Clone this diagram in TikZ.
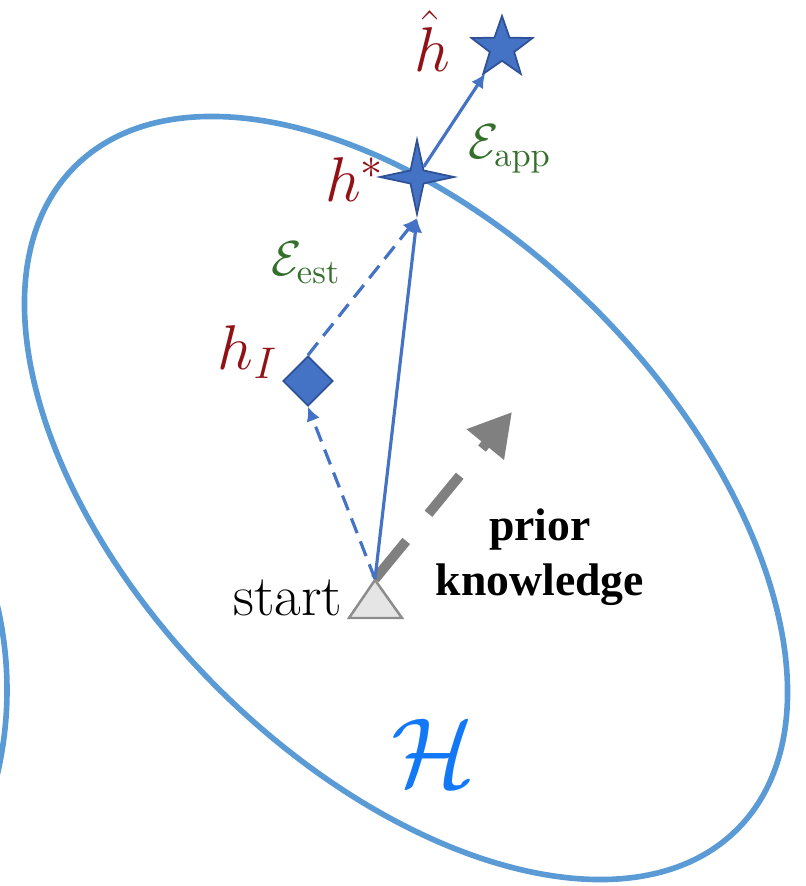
\RequirePackage{fix-cm}
\documentclass[tikz,border=0pt]{standalone}
\usepackage{amsmath}
\usepackage{fontspec}
\newfontfamily\tnrfont{Liberation Serif}
\usetikzlibrary{shapes.geometric,arrows.meta}

\definecolor{hypblue}{RGB}{91,155,213}
\definecolor{Hblue}{RGB}{18,120,245}
\definecolor{markblue}{RGB}{68,114,196}
\definecolor{markedge}{RGB}{47,82,150}
\definecolor{labred}{RGB}{145,18,22}
\definecolor{errgreen}{RGB}{52,112,44}

\begin{document}
\begin{tikzpicture}[
  hyp/.style={draw=hypblue, line width=1.6pt},
  hmark/.style={draw=markedge, fill=markblue, line width=0.5pt, inner sep=0pt},
  redlab/.style={text=labred, font=\fontsize{18}{20}\selectfont},
  errlab/.style={text=errgreen, font=\fontsize{14}{16}\selectfont},
  link/.style={draw=markblue, line width=0.9pt, -{Latex[length=4pt,width=4pt]}},
  dlink/.style={link, dash pattern=on 4.5pt off 2.5pt},
  priorarrow/.style={draw=gray, line width=2.8pt, dash pattern=on 14pt off 10pt,
    -{Triangle[length=12pt,width=13pt]}, gray}
]
\useasboundingbox (0,0) rectangle (8.05,8.86);

% hypothesis spaces
\begin{scope}
\clip (0,0) rectangle (8.05,8.86);
\draw[hyp] (-3.63,1.96) circle (3.70);
\end{scope}
\draw[hyp, rotate around={-45:(4.06,3.88)}] (4.06,3.88) ellipse (4.685cm and 2.675cm);

% start
\filldraw[fill=black!10, draw=black!45, line width=0.7pt] (3.49,2.68) -- (3.75,3.06) -- (4.02,2.68) -- cycle;
\coordinate (start) at (3.75,3.07);
\coordinate (pktip) at (5.12,4.74);

% hypotheses
\node[hmark, star, star points=5, star point ratio=2.5, minimum size=0.64cm] (hhat) at (5.02,8.38) {};
\node[hmark, star, star points=4, star point ratio=4, minimum size=0.74cm] (hstar) at (4.17,7.09) {};
\node[hmark, diamond, minimum size=0.5cm] (hI) at (3.08,5.05) {};

% arrows
\draw[priorarrow] (start) -- (pktip);
\draw[dlink] (start) -- (hI.south);
\draw[dlink] (hI.north) -- (hstar.-90);
\draw[link] (start) -- (hstar.-90);
\draw[link] (hstar) -- (hhat);

% labels
\node[redlab] (hhatlab) at (4.32,8.45) {$\hat{h}$};
\node[redlab] (hstarlab) at (3.55,7.06) {$h^*$};
\node[redlab] (hIlab) at (2.48,5.34) {$h_I$};
\node[errlab] (eapp) at (5.10,7.37) {$\mathcal{E}_{\text{app}}$};
\node[errlab] (eest) at (3.06,6.23) {$\mathcal{E}_{\text{est}}$};
\node[font=\fontsize{16.5}{18}\selectfont] (startlab) at (2.88,2.88) {start};
\node[font=\tnrfont\bfseries\fontsize{13}{15.5}\selectfont, align=center] (pklab) at (5.40,3.29) {prior\\knowledge};
\node[text=Hblue, font=\fontsize{28}{30}\selectfont] (Hlab) at (4.34,1.33) {$\mathcal{H}$};

\end{tikzpicture}
\end{document}
